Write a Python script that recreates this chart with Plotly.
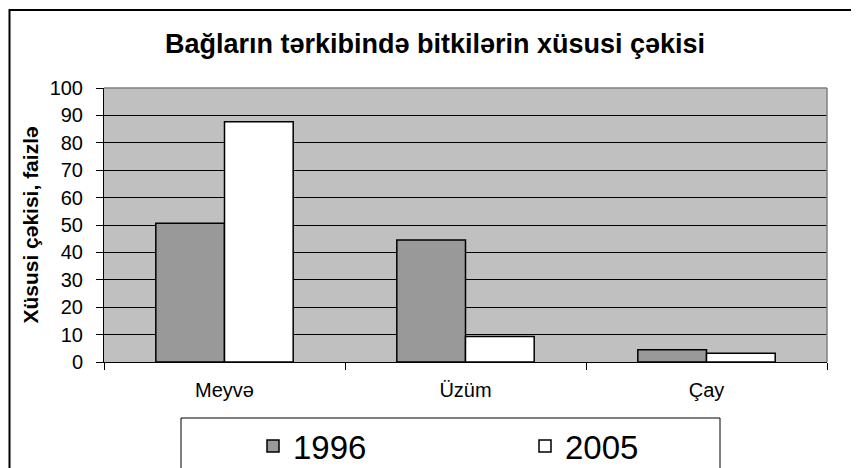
import plotly.graph_objects as go

categories = ["Meyvə", "Üzüm", "Çay"]
values_1996 = [50.6, 44.5, 4.5]
values_2005 = [87.7, 9.3, 3.2]
y_ticks = [0, 10, 20, 30, 40, 50, 60, 70, 80, 90, 100]

FONT = "Liberation Sans, Arial, sans-serif"
W, H = 859, 468
OFF = 8  # page body margin in the exported html
# target plot-area edges in screenshot pixels
L, R, T, B = 104 - OFF, 827 - OFF, 88 - OFF, 362 - OFF
pw, ph = R - L, B - T

def px_x(x):
    return (x - OFF - L) / pw

def px_y(y):
    return (B - (y - OFF)) / ph

fig = go.Figure()
fig.add_trace(go.Bar(name="1996", x=categories, y=values_1996,
                     marker=dict(color="#999999", line=dict(color="black", width=1.5))))
fig.add_trace(go.Bar(name="2005", x=categories, y=values_2005,
                     marker=dict(color="white", line=dict(color="black", width=1.5))))

fig.update_layout(
    width=W, height=H,
    margin=dict(l=L, r=W - R, t=T, b=H - B, pad=0, autoexpand=False),
    paper_bgcolor="white",
    plot_bgcolor="#c0c0c0",
    barmode="group",
    bargap=0.43,
    bargroupgap=0,
    font=dict(family=FONT, color="black"),
    title=dict(text="<b>Bağların tərkibində bitkilərin xüsusi çəkisi</b>",
               x=px_x(435), xref="paper", xanchor="center",
               y=1 - (44 - OFF) / H, yref="container", yanchor="middle",
               font=dict(size=27, family=FONT, color="black")),
    showlegend=True,
    legend=dict(orientation="h", x=px_x(253), xanchor="left",
                y=px_y(446), yanchor="middle",
                font=dict(size=33, family=FONT, color="black"),
                bgcolor="rgba(0,0,0,0)", borderwidth=0,
                entrywidth=227, entrywidthmode="pixels",
                traceorder="normal"),
)

fig.update_yaxes(range=[0, 100], tickvals=y_ticks, showgrid=True,
                 gridcolor="black", gridwidth=1,
                 showline=True, linecolor="black", linewidth=1,
                 ticks="outside", ticklen=7, tickcolor="black",
                 ticklabelstandoff=9,
                 tickfont=dict(size=20, family=FONT), zeroline=False,
                 title=dict(text="<b>Xüsusi çəkisi, faizlə</b>",
                            font=dict(size=21, family=FONT), standoff=5))
fig.update_xaxes(showline=True, linecolor="black", linewidth=1,
                 ticks="outside", ticklen=7, tickcolor="black",
                 tickson="boundaries", ticklabelstandoff=10,
                 tickfont=dict(size=20, family=FONT), showgrid=False)

# plot area top/right border (grey)
fig.add_shape(type="line", xref="paper", yref="paper", x0=0, x1=1, y0=1, y1=1,
              line=dict(color="#808080", width=1.5))
fig.add_shape(type="line", xref="paper", yref="paper", x0=1, x1=1, y0=0, y1=1,
              line=dict(color="#808080", width=1.5))

# outer chart frame (extends past bottom/right of view)
fig.add_shape(type="rect", xref="paper", yref="paper",
              x0=px_x(9.5), x1=px_x(880), y0=px_y(490), y1=px_y(10),
              line=dict(color="black", width=2), fillcolor="rgba(0,0,0,0)", layer="above")
# legend frame
fig.add_shape(type="rect", xref="paper", yref="paper",
              x0=px_x(181), x1=px_x(720), y0=px_y(490), y1=px_y(418),
              line=dict(color="black", width=1), fillcolor="rgba(0,0,0,0)", layer="above")

fig.write_html("out.html")
